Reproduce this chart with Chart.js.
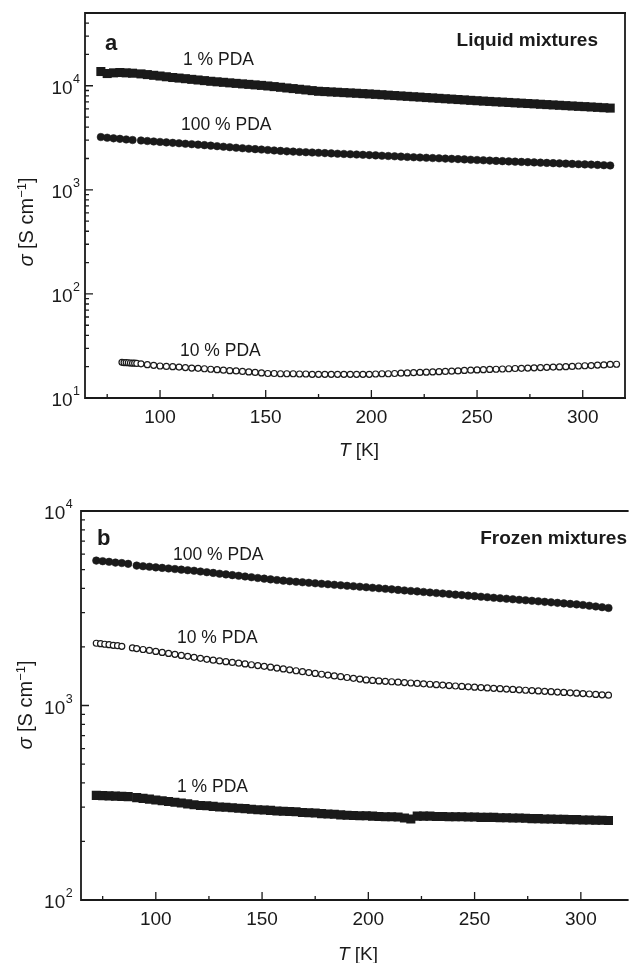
<!DOCTYPE html>
<html>
<head>
<meta charset="utf-8">
<title>Conductivity vs temperature</title>
<script src="https://cdn.jsdelivr.net/npm/chart.js@4.4.1/dist/chart.umd.min.js"></script>
<style>
  html, body { margin: 0; padding: 0; background: #fff; }
  #wrap { position: relative; width: 634px; height: 963px; overflow: hidden; }
  #topBox { position: absolute; left: 0; top: 0; width: 634px; height: 480px; }
  #botBox { position: absolute; left: 0; top: 480px; width: 634px; height: 483px; }
  canvas { display: block; }
</style>
</head>
<body>
<div id="wrap">
  <div id="topBox"><canvas id="chartA" width="634" height="480"></canvas></div>
  <div id="botBox"><canvas id="chartB" width="634" height="483"></canvas></div>
</div>
<script>
// --- DATA (T in K, sigma in S/cm) ---
const tG = [72,75,78,81,84,87,
  91,94,97,100,103,106,109,112,115,118,121,124,127,130,133,136,139,142,145,148,
  151,154,157,160,163,166,169,172,175,178,181,184,187,190,193,196,199,202,205,208,
  211,214,217,220,223,226,229,232,235,238,241,244,247,250,253,256,259,262,265,268,
  271,274,277,280,283,286,289,292,295,298,301,304,307,310,313];

const t10Liq = [82,83,84,85,86,87,88,89,
  91,94,97,100,103,106,109,112,115,118,121,124,127,130,133,136,139,142,145,148,
  151,154,157,160,163,166,169,172,175,178,181,184,187,190,193,196,199,202,205,208,
  211,214,217,220,223,226,229,232,235,238,241,244,247,250,253,256,259,262,265,268,
  271,274,277,280,283,286,289,292,295,298,301,304,307,310,313,316];

const t10Fro = [72,74,76,78,80,82,84,89,
  91,94,97,100,103,106,109,112,115,118,121,124,127,130,133,136,139,142,145,148,
  151,154,157,160,163,166,169,172,175,178,181,184,187,190,193,196,199,202,205,208,
  211,214,217,220,223,226,229,232,235,238,241,244,247,250,253,256,259,262,265,268,
  271,274,277,280,283,286,289,292,295,298,301,304,307,310,313];

// (a) liquid mixtures
const sigLiq1 = [13700,13100,13300,13400,13300,13200,
  13000,12800,12600,12400,12200,12000,11850,11690,11520,11360,11200,11040,10910,10790,
  10660,10540,10420,10310,10190,10080,9950,9810,9670,9520,9390,9250,9120,8980,8850,8790,
  8720,8660,8590,8530,8470,8400,8340,8270,8200,8120,8050,7980,7910,7840,7780,7700,
  7640,7570,7500,7440,7370,7310,7240,7180,7120,7070,7010,6960,6910,6850,6800,6750,
  6700,6640,6590,6540,6490,6440,6390,6340,6300,6250,6200,6150,6100];

const sigLiq100 = [3215,3170,3125,3090,3050,3010,
  2980,2945,2915,2885,2855,2828,2800,2771,2744,2716,2688,2657,2627,2597,
  2568,2538,2510,2485,2460,2437,2413,2390,2367,2344,2329,2313,2298,2283,2268,2253,
  2239,2225,2211,2198,2184,2170,2157,2143,2128,2113,2099,2084,2070,2056,2044,2032,
  2020,2008,1996,1985,1973,1960,1947,1934,1922,1909,1897,1886,1875,1865,1855,1844,
  1834,1824,1814,1804,1794,1784,1774,1764,1755,1747,1736,1725,1714];

const sigLiq10 = [22.0,21.9,21.9,21.8,21.7,21.6,21.6,21.5,
  21.3,20.9,20.6,20.3,20.1,20.0,19.8,19.6,19.4,19.3,19.1,18.9,18.7,18.5,18.3,18.2,18.0,17.8,17.6,17.4,
  17.2,17.2,17.1,17.1,17.1,17.0,17.0,16.9,16.9,16.9,16.9,16.9,16.9,16.9,16.9,16.9,16.9,17.0,17.1,17.1,
  17.2,17.3,17.4,17.5,17.6,17.7,17.8,17.9,18.0,18.1,18.2,18.4,18.5,18.6,18.7,18.8,18.9,19.0,19.1,19.2,
  19.3,19.4,19.5,19.6,19.7,19.8,19.9,20.0,20.1,20.3,20.4,20.5,20.7,20.8,21.0,21.1];

// (b) frozen mixtures
const sigFro100 = [5560,5520,5480,5430,5400,5350,
  5240,5200,5170,5130,5100,5065,5030,4995,4960,4930,4885,4845,4805,4760,
  4720,4680,4645,4605,4565,4525,4490,4450,4415,4385,4355,4325,4300,4275,4250,4225,
  4200,4175,4150,4125,4105,4080,4055,4030,4005,3980,3955,3930,3905,3880,3860,3835,
  3810,3785,3765,3740,3715,3695,3670,3650,3625,3605,3580,3560,3540,3517,3495,3475,
  3454,3433,3412,3391,3371,3350,3330,3310,3287,3258,3230,3202,3174];

const sigFro10 = [2090,2080,2065,2055,2040,2030,2015,1977,
  1963,1941,1919,1897,1875,1853,1832,1810,1789,1769,1748,1728,1711,1695,1680,1665,1650,1635,1620,1605,
  1590,1574,1558,1541,1525,1509,1493,1477,1462,1448,1434,1420,1407,1393,1380,1367,1354,1345,1338,1331,
  1325,1318,1312,1305,1299,1292,1286,1279,1273,1266,1260,1254,1248,1242,1236,1231,1225,1220,1214,1209,
  1204,1198,1193,1188,1183,1178,1172,1167,1162,1157,1151,1146,1140,1135,1130];

const sigFro1 = [345,344,343,342,341,340,
  336,333,330,327,324,321,318,315,312,309,306,305,303,301,
  300,298,296,295,293,291,290,289,287,286,285,284,282,281,280,278,
  277,276,274,273,272,271,271,270,269,268,268,267,264,261,270,270,
  270,269,269,268,268,268,267,267,266,266,266,265,265,264,264,263,
  262,262,261,261,260,260,259,259,258,258,257,257,256];

// axis ticks
const xMajor = [100, 150, 200, 250, 300];
const xMinor = [75, 125, 175, 225, 275];
const yDecadesA = [10, 100, 1000, 10000];
const yDecadesB = [100, 1000, 10000];

// --- STYLE ---
const INK = '#1a1a1a';
const FONT = '"Liberation Sans", Arial, Helvetica, sans-serif';

const pts = (t, s) => t.map((v, i) => ({ x: v, y: s[i] }));
const squares = (d) => ({ data: d, showLine: false, pointStyle: 'rect', pointRadius: 6.4, backgroundColor: INK, borderWidth: 0 });
const discs = (d) => ({ data: d, showLine: false, pointStyle: 'circle', pointRadius: 3.8, backgroundColor: INK, borderColor: INK, borderWidth: 0.5 });
const rings = (d) => ({ data: d, showLine: false, pointStyle: 'circle', pointRadius: 3.0, backgroundColor: '#fff', borderColor: INK, borderWidth: 1.2 });

// frame, inward ticks, labels and notes
function deco(cfg) {
    return {
        id: 'deco',
        afterDraw(chart) {
            const { ctx, chartArea: a, scales: { x, y } } = chart;
            ctx.save();
            ctx.strokeStyle = INK;
            ctx.fillStyle = INK;

            // frame
            ctx.lineWidth = 1.8;
            ctx.beginPath();
            ctx.moveTo(a.right + 1, a.top); ctx.lineTo(a.left, a.top); ctx.lineTo(a.left, a.bottom); ctx.lineTo(a.right + 1, a.bottom);
            if (cfg.rightBorder) { ctx.moveTo(a.right, a.top); ctx.lineTo(a.right, a.bottom); }
            ctx.stroke();

            // ticks
            ctx.lineWidth = 1.3;
            ctx.beginPath();
            xMajor.forEach(v => { const p = x.getPixelForValue(v); ctx.moveTo(p, a.bottom); ctx.lineTo(p, a.bottom - 8); });
            xMinor.forEach(v => { const p = x.getPixelForValue(v); ctx.moveTo(p, a.bottom); ctx.lineTo(p, a.bottom - 4); });
            const e0 = Math.floor(Math.log10(y.min)), e1 = Math.floor(Math.log10(y.max));
            for (let e = e0; e <= e1; e++) {
                for (let m = 1; m <= 9; m++) {
                    const v = m * Math.pow(10, e);
                    if (v < y.min * 0.999 || v > y.max * 1.001) continue;
                    const p = y.getPixelForValue(v);
                    ctx.moveTo(a.left, p); ctx.lineTo(a.left + (m === 1 ? 8 : 4), p);
                }
            }
            ctx.stroke();

            // x tick labels
            ctx.textBaseline = 'alphabetic';
            ctx.font = `19px ${FONT}`;
            ctx.textAlign = 'center';
            xMajor.forEach(v => ctx.fillText(String(v), x.getPixelForValue(v), a.bottom + 25));

            // y tick labels 10^n
            cfg.decades.forEach(v => {
                const p = y.getPixelForValue(v);
                const ex = String(Math.round(Math.log10(v)));
                const supR = a.left - cfg.supGap;
                ctx.textAlign = 'right';
                ctx.font = `12.5px ${FONT}`;
                ctx.fillText(ex, supR, p - 3);
                const sw = ctx.measureText(ex).width;
                ctx.font = `19px ${FONT}`;
                ctx.fillText('10', supR - sw - 0.5, p + 8);
            });

            // x title: T [K]
            ctx.textAlign = 'left';
            ctx.font = `italic 19px ${FONT}`;
            const wT = ctx.measureText('T').width;
            ctx.font = `19px ${FONT}`;
            const wK = ctx.measureText(' [K]').width;
            const x0 = cfg.xTitle.cx - (wT + wK) / 2;
            ctx.font = `italic 19px ${FONT}`;
            ctx.fillText('T', x0, cfg.xTitle.base);
            ctx.font = `19px ${FONT}`;
            ctx.fillText(' [K]', x0 + wT, cfg.xTitle.base);

            // y title: sigma [S cm^-1]
            const parts = [
                { s: '\u03C3', f: `italic 20px ${FONT}`, dy: 0 },
                { s: ' [S cm', f: `20px ${FONT}`, dy: 0 },
                { s: '\u22121', f: `13px ${FONT}`, dy: -7 },
                { s: ']', f: `20px ${FONT}`, dy: 0 }
            ];
            let tot = 0;
            parts.forEach(pt => { ctx.font = pt.f; pt.w = ctx.measureText(pt.s).width; tot += pt.w; });
            ctx.save();
            ctx.translate(cfg.yTitle.bx, cfg.yTitle.cy);
            ctx.rotate(-Math.PI / 2);
            let px = -tot / 2;
            parts.forEach(pt => { ctx.font = pt.f; ctx.fillText(pt.s, px, pt.dy); px += pt.w; });
            ctx.restore();

            // panel notes
            cfg.notes.forEach(n => {
                ctx.font = n.f;
                ctx.textAlign = n.align || 'left';
                ctx.fillText(n.t, n.x, n.y);
            });
            ctx.restore();
        }
    };
}

function makeChart(id, o) {
    return new Chart(document.getElementById(id), {
        type: 'scatter',
        data: { datasets: o.datasets },
        options: {
            responsive: false,
            animation: false,
            events: [],
            layout: { padding: o.padding },
            plugins: { legend: { display: false }, tooltip: { enabled: false } },
            scales: {
                x: {
                    type: 'linear', min: o.xMin, max: o.xMax,
                    grid: { display: false, drawTicks: false }, border: { display: false },
                    ticks: { display: false },
                    afterFit: s => { s.height = o.xAxisH; }
                },
                y: {
                    type: 'logarithmic', min: o.yMin, max: o.yMax,
                    grid: { display: false, drawTicks: false }, border: { display: false },
                    ticks: { display: false },
                    afterFit: s => { s.width = o.yAxisW; }
                }
            }
        },
        plugins: [deco(o.deco)]
    });
}

const REG = `17.5px ${FONT}`;
const BOLD = `bold 19px ${FONT}`;
const LETTER = `bold 22px ${FONT}`;

// --- PANEL A ---
makeChart('chartA', {
    datasets: [
        squares(pts(tG, sigLiq1)),
        discs(pts(tG, sigLiq100)),
        rings(pts(t10Liq, sigLiq10))
    ],
    padding: { top: 13, right: 9, left: 0, bottom: 0 },
    xMin: 64.5, xMax: 320, yMin: 10, yMax: 50000,
    xAxisH: 82, yAxisW: 85,
    deco: {
        rightBorder: true, decades: yDecadesA, supGap: 5,
        xTitle: { cx: 359, base: 456 },
        yTitle: { bx: 33, cy: 222 },
        notes: [
            { t: 'a', x: 105, y: 50, f: LETTER },
            { t: 'Liquid mixtures', x: 598, y: 46, f: BOLD, align: 'right' },
            { t: '1 % PDA', x: 183, y: 65, f: REG },
            { t: '100 % PDA', x: 181, y: 130, f: REG },
            { t: '10 % PDA', x: 180, y: 356, f: REG }
        ]
    }
});

// --- PANEL B ---
makeChart('chartB', {
    datasets: [
        squares(pts(tG, sigFro1)),
        discs(pts(tG, sigFro100)),
        rings(pts(t10Fro, sigFro10))
    ],
    padding: { top: 31, right: 0, left: 0, bottom: 0 },
    xMin: 64.8, xMax: 322, yMin: 100, yMax: 10000,
    xAxisH: 63, yAxisW: 81,
    deco: {
        rightBorder: false, decades: yDecadesB, supGap: 8.3,
        xTitle: { cx: 358, base: 480 },
        yTitle: { bx: 32, cy: 225 },
        notes: [
            { t: 'b', x: 97, y: 65, f: LETTER },
            { t: 'Frozen mixtures', x: 627, y: 64, f: BOLD, align: 'right' },
            { t: '100 % PDA', x: 173, y: 80, f: REG },
            { t: '10 % PDA', x: 177, y: 163, f: REG },
            { t: '1 % PDA', x: 177, y: 312, f: REG }
        ]
    }
});
</script>
</body>
</html>
